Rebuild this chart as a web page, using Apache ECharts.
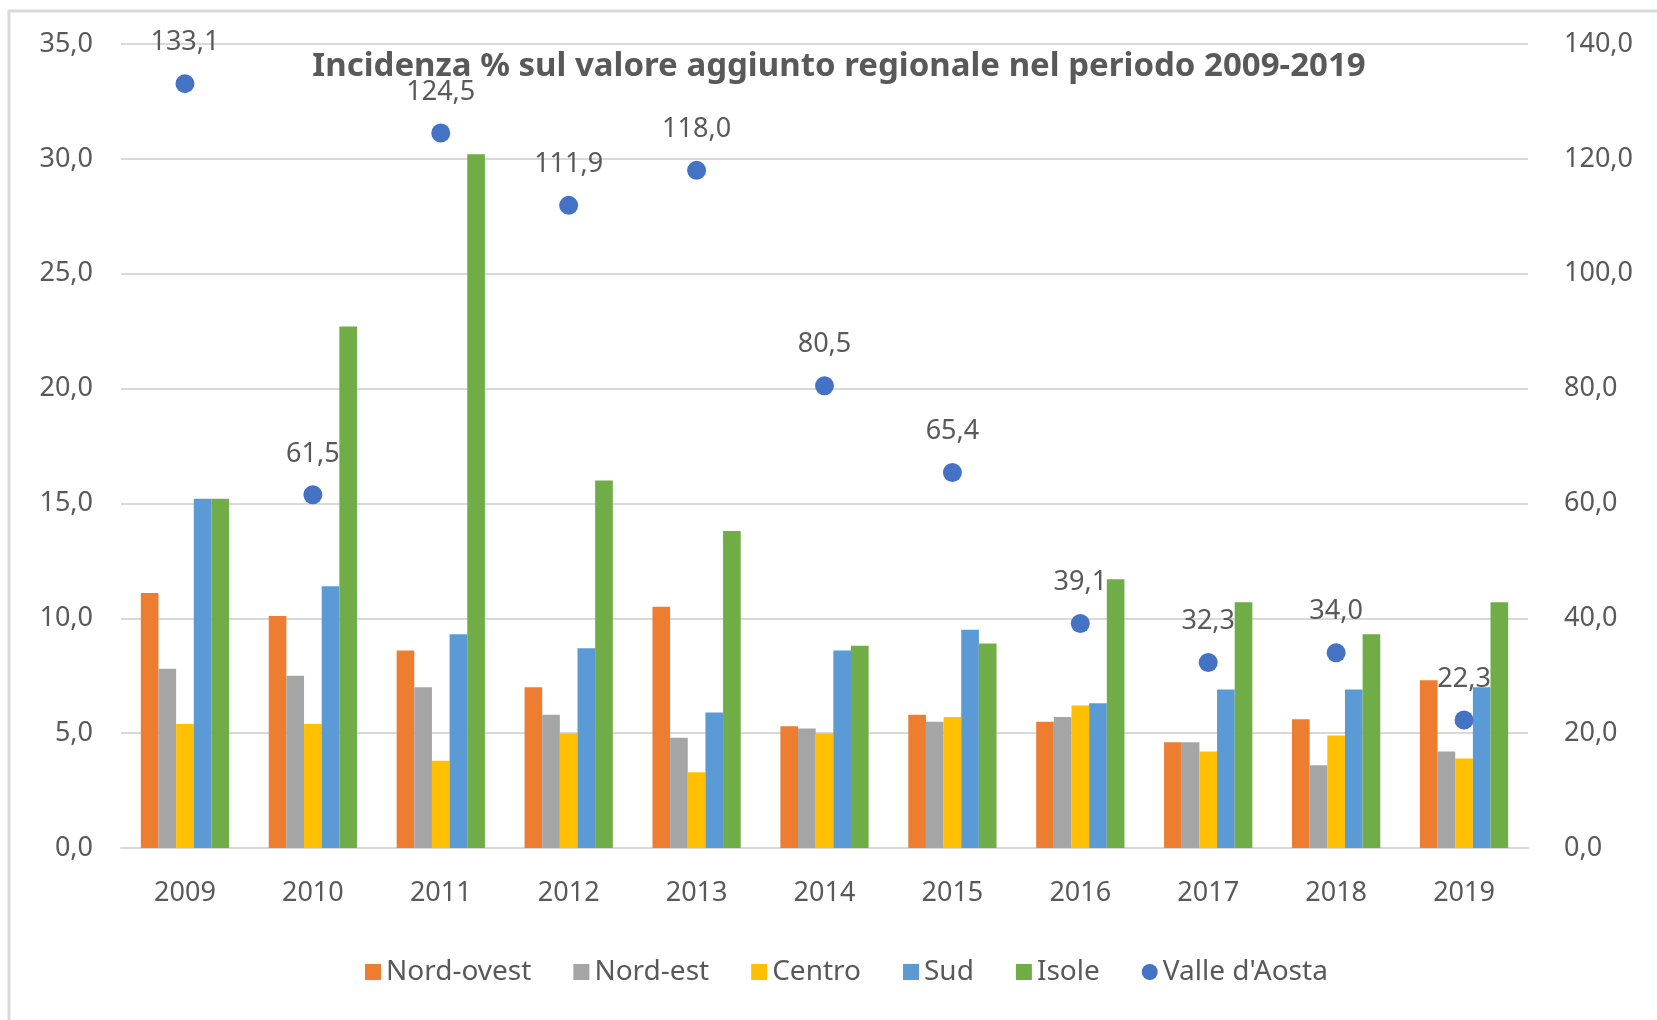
<!DOCTYPE html>
<html lang="it">
<head>
    <meta charset="UTF-8">
    <script src="https://cdn.jsdelivr.net/npm/echarts@6/dist/echarts.min.js"></script>
    <title>Incidenza % sul valore aggiunto regionale</title>
    <style>
        html, body { margin: 0; padding: 0; background: #fff; }
    </style>
</head>
<body>
<div id="main" style="width: 1657px;height: 1020px"></div>
<script type="text/javascript">
    // dati
    var anni = ['2009', '2010', '2011', '2012', '2013', '2014', '2015', '2016', '2017', '2018', '2019'];
    var nordOvest = [11.1, 10.1, 8.6, 7.0, 10.5, 5.3, 5.8, 5.5, 4.6, 5.6, 7.3];
    var nordEst = [7.8, 7.5, 7.0, 5.8, 4.8, 5.2, 5.5, 5.7, 4.6, 3.6, 4.2];
    var centro = [5.4, 5.4, 3.8, 5.0, 3.3, 5.0, 5.7, 6.2, 4.2, 4.9, 3.9];
    var sud = [15.2, 11.4, 9.3, 8.7, 5.9, 8.6, 9.5, 6.3, 6.9, 6.9, 7.0];
    var isole = [15.2, 22.7, 30.2, 16.0, 13.8, 8.8, 8.9, 11.7, 10.7, 9.3, 10.7];
    var valleAosta = [133.1, 61.5, 124.5, 111.9, 118.0, 80.5, 65.4, 39.1, 32.3, 34.0, 22.3];

    var font = '"Noto Sans", "Open Sans", sans-serif';
    var grigio = '#595959';

    function virgola(v) {
        return Number(v).toFixed(1).replace('.', ',');
    }

    function barra(nome, dati, colore) {
        return {
            name: nome,
            type: 'bar',
            data: dati,
            itemStyle: { color: colore },
            barGap: '0%',
            barCategoryGap: '31%'
        };
    }

    var myChart = echarts.init(document.getElementById("main"));

    myChart.setOption({
        animation: false,
        backgroundColor: '#fff',
        textStyle: { fontFamily: font },
        graphic: [{
            type: 'rect',
            shape: { x: 9, y: 11, width: 1700, height: 1100 },
            style: { fill: 'none', stroke: '#d9d9d9', lineWidth: 3 },
            silent: true,
            z: -1
        }],
        title: {
            text: 'Incidenza % sul valore aggiunto regionale nel periodo 2009-2019',
            left: 834,
            top: 45,
            textAlign: 'center',
            textStyle: { color: grigio, fontSize: 33, fontWeight: 'bold', fontFamily: font }
        },
        legend: {
            bottom: 29,
            left: 360,
            itemWidth: 16,
            itemHeight: 16,
            itemGap: 42,
            textStyle: { color: grigio, fontSize: 28, fontFamily: font },
            data: [
                { name: 'Nord-ovest', icon: 'rect' },
                { name: 'Nord-est', icon: 'rect' },
                { name: 'Centro', icon: 'rect' },
                { name: 'Sud', icon: 'rect' },
                { name: 'Isole', icon: 'rect' },
                { name: "Valle d'Aosta", icon: 'circle' }
            ]
        },
        grid: {
            left: 121,
            right: 129,
            top: 44,
            bottom: 172,
            containLabel: false
        },
        xAxis: {
            type: 'category',
            data: anni,
            axisTick: { show: false },
            axisLine: { lineStyle: { color: '#d9d9d9', width: 2 } },
            axisLabel: { color: grigio, fontSize: 27, margin: 32, fontFamily: font }
        },
        yAxis: [{
            type: 'value',
            min: 0,
            max: 35,
            interval: 5,
            axisLine: { show: false },
            axisTick: { show: false },
            splitLine: { lineStyle: { color: '#d9d9d9', width: 2 } },
            axisLabel: { color: grigio, fontSize: 27, margin: 28, formatter: virgola, fontFamily: font }
        }, {
            type: 'value',
            min: 0,
            max: 140,
            interval: 20,
            axisLine: { show: false },
            axisTick: { show: false },
            splitLine: { show: false },
            axisLabel: { color: grigio, fontSize: 27, margin: 36, formatter: virgola, fontFamily: font }
        }],
        series: [
            barra('Nord-ovest', nordOvest, '#ED7D31'),
            barra('Nord-est', nordEst, '#A5A5A5'),
            barra('Centro', centro, '#FFC000'),
            barra('Sud', sud, '#5B9BD5'),
            barra('Isole', isole, '#70AD47'),
            {
                name: "Valle d'Aosta",
                type: 'scatter',
                yAxisIndex: 1,
                data: valleAosta,
                symbolSize: 19,
                itemStyle: { color: '#4472C4', opacity: 1 },
                z: 5,
                label: {
                    show: true,
                    position: 'top',
                    distance: 18,
                    color: grigio,
                    opacity: 1,
                    fontSize: 27,
                    fontFamily: font,
                    formatter: function (p) { return virgola(p.value); }
                }
            }
        ]
    });
</script>
</body>
</html>
